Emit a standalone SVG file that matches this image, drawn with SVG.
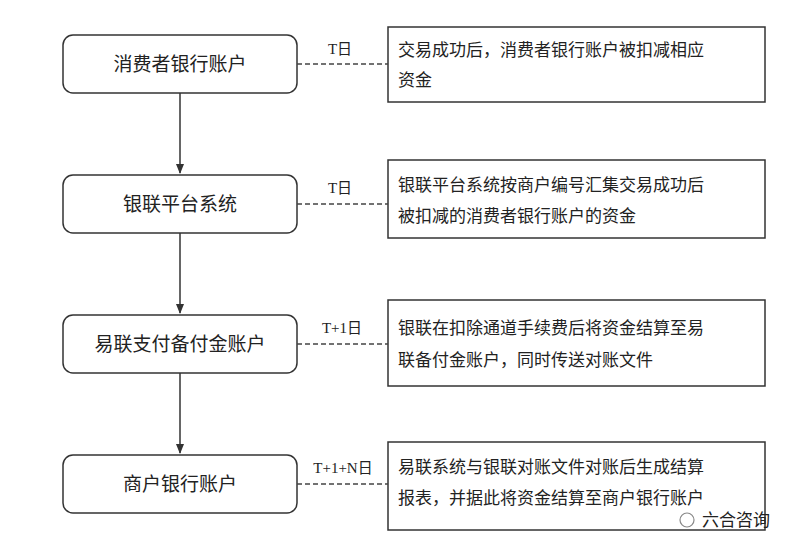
<svg xmlns="http://www.w3.org/2000/svg" width="800" height="553" viewBox="0 0 800 553">
<style>
.l{fill:#fff;stroke:#333;stroke-width:1.5}
.r{fill:#fff;stroke:#333;stroke-width:1.5}
.t{font-family:"Noto Sans CJK SC","Noto Sans",sans-serif;fill:#222}
.c{font-size:19px;text-anchor:middle}
.s{font-size:17px}
.d{stroke:#444;stroke-width:1.3;stroke-dasharray:5,3;fill:none}
.a{stroke:#333;stroke-width:1.5;fill:none}
.lb{font-family:"Liberation Serif","Noto Sans CJK SC",serif;font-size:15px;fill:#222;text-anchor:middle}
</style>
<defs><marker id="ar" markerWidth="10" markerHeight="10" refX="9" refY="5" orient="auto" markerUnits="userSpaceOnUse"><path d="M0,1 L10,5 L0,9 Z" fill="#333"/></marker></defs>
<rect width="800" height="553" fill="#fff"/>
<g id="n1"><rect class="l" x="63" y="35" width="234" height="58" rx="10"/><text class="t c" x="180" y="71">消费者银行账户</text></g>
<g id="n2"><rect class="l" x="63" y="175" width="234" height="58" rx="10"/><text class="t c" x="180" y="211">银联平台系统</text></g>
<g id="n3"><rect class="l" x="63" y="315" width="234" height="58" rx="10"/><text class="t c" x="180" y="351">易联支付备付金账户</text></g>
<g id="n4"><rect class="l" x="63" y="455" width="234" height="58" rx="10"/><text class="t c" x="180" y="491">商户银行账户</text></g>
<g id="r1"><rect class="r" x="388" y="27" width="377" height="75"/><text class="t s" x="398" y="56">交易成功后，消费者银行账户被扣减相应</text><text class="t s" x="398" y="86">资金</text></g>
<g id="r2"><rect class="r" x="388" y="160" width="377" height="78"/><text class="t s" x="398" y="191">银联平台系统按商户编号汇集交易成功后</text><text class="t s" x="398" y="222">被扣减的消费者银行账户的资金</text></g>
<g id="r3"><rect class="r" x="388" y="300" width="377" height="86"/><text class="t s" x="398" y="334">银联在扣除通道手续费后将资金结算至易</text><text class="t s" x="398" y="366">联备付金账户，同时传送对账文件</text></g>
<g id="r4"><rect class="r" x="388" y="442" width="377" height="88"/><text class="t s" x="398" y="473">易联系统与银联对账文件对账后生成结算</text><text class="t s" x="398" y="504">报表，并据此将资金结算至商户银行账户</text></g>
<g id="edges">
<path class="a" d="M180,93 V173" marker-end="url(#ar)"/>
<path class="a" d="M180,233 V313" marker-end="url(#ar)"/>
<path class="a" d="M180,373 V453" marker-end="url(#ar)"/>
<path class="d" d="M297,64 H388"/><path class="d" d="M297,204 H388"/><path class="d" d="M297,344 H388"/><path class="d" d="M297,484 H388"/>
<text class="lb" x="340" y="54">T日</text>
<text class="lb" x="340" y="193">T日</text>
<text class="lb" x="342" y="333">T+1日</text>
<text class="lb" x="343" y="473">T+1+N日</text>
</g>
<text class="t" x="702" y="526" font-size="17" fill="#555">六合咨询</text>
<circle cx="687" cy="520" r="7" fill="none" stroke="#888" stroke-width="1.2"/>
</svg>
